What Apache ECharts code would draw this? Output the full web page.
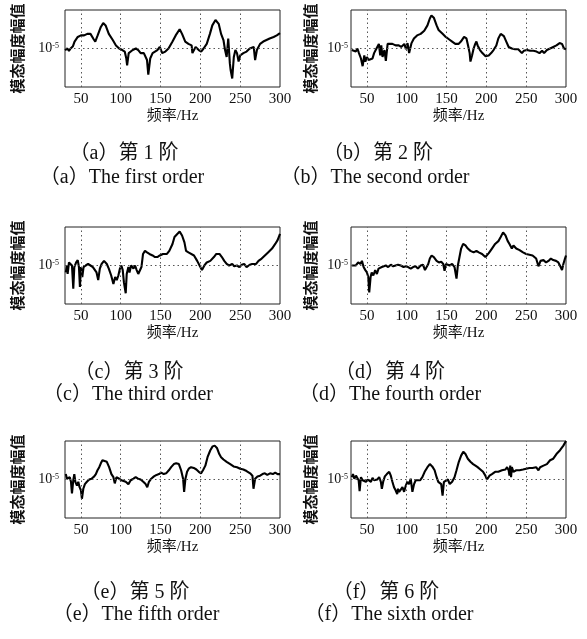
<!DOCTYPE html>
<html>
<head>
<meta charset="utf-8">
<script src="https://cdn.jsdelivr.net/npm/echarts@6/dist/echarts.min.js"></script>
<style>
  html, body { margin: 0; background: #fff; }
  #chart { width: 587px; height: 639px; }
</style>
</head>
<body>
<div id="chart"></div>
<script>
// tick values on the frequency axis
const xTicks = [50, 100, 150, 200, 250, 300];
const gridFreqs = [50, 100, 150, 200, 250];
// 10^-5 reference (values below are log10 of the modal amplitude)
const refLevel = -5;

// [frequency Hz, log10 amplitude]
const order1 = [[30,-5.02],[33,-5.00],[35,-5.03],[37,-5.00],[40,-4.97],[42,-4.91],[44,-4.89],[46,-4.85],[50,-4.83],[54,-4.83],[58,-4.81],[62,-4.81],[66,-4.88],[68,-4.91],[71,-4.83],[75,-4.72],[78,-4.67],[81,-4.70],[85,-4.81],[90,-4.89],[94,-4.96],[98,-5.00],[102,-5.02],[105,-5.04],[107,-5.13],[108,-5.22],[110,-5.06],[115,-5.02],[119,-5.00],[122,-5.02],[125,-5.06],[129,-5.06],[133,-5.15],[134.6,-5.34],[137,-5.13],[140,-5.06],[142,-5.04],[146,-5.02],[149,-4.98],[152,-5.06],[156,-5.04],[160,-5.00],[165,-4.91],[169,-4.83],[174,-4.75],[177,-4.81],[181,-4.91],[185,-4.94],[189,-4.96],[190,-5.06],[194,-4.98],[198,-5.02],[201,-5.04],[204,-5.00],[208,-4.94],[212,-4.81],[215,-4.70],[219,-4.63],[223,-4.68],[226,-4.81],[229,-4.89],[231,-5.02],[233,-5.11],[235,-4.87],[237,-5.19],[238,-5.28],[240,-5.39],[242,-5.11],[244,-5.02],[246,-5.06],[248,-5.17],[250,-5.09],[254,-5.06],[258,-5.04],[262,-5.00],[267,-4.98],[268.75,-5.15],[271,-5.02],[275,-4.94],[279,-4.91],[283,-4.89],[287,-4.87],[292,-4.85],[296,-4.83],[300,-4.80]];

const order2 = [[31,-5.02],[33,-5.00],[36,-5.04],[38,-5.00],[40,-5.06],[42.5,-5.13],[44.6,-5.23],[46.7,-5.09],[48,-5.17],[50,-5.11],[52,-5.15],[54,-5.17],[57,-5.13],[59,-5.06],[61,-5.02],[63,-4.98],[65,-4.94],[66.7,-5.09],[68,-4.96],[69.6,-5.11],[72,-5.02],[73.75,-5.16],[76,-4.94],[78,-4.93],[82,-4.94],[86,-4.96],[90,-4.96],[93,-4.98],[97,-4.94],[99,-5.01],[101,-4.93],[103,-5.06],[106,-4.93],[109,-4.87],[113,-4.83],[117.5,-4.81],[122,-4.77],[126,-4.70],[129,-4.61],[131,-4.57],[134,-4.60],[137.5,-4.70],[140,-4.76],[145,-4.81],[149,-4.85],[153,-4.88],[157,-4.91],[161,-4.94],[165,-4.94],[168,-4.91],[172,-4.85],[175,-4.87],[177,-4.96],[179,-5.06],[180,-5.17],[182,-5.09],[184,-5.00],[186,-4.94],[187.5,-4.91],[189,-4.96],[192,-5.02],[195,-5.06],[199,-5.10],[203,-5.09],[206,-5.06],[209,-5.02],[212.5,-4.96],[215,-4.87],[218,-4.81],[222,-4.84],[225,-4.91],[228,-4.98],[232,-5.00],[236,-5.01],[240,-5.01],[244.6,-5.06],[247,-5.03],[251,-5.02],[255,-5.03],[259,-5.03],[263,-5.04],[266.7,-5.06],[270,-5.03],[272.5,-5.06],[276,-5.02],[280,-5.00],[284,-4.98],[288,-4.96],[292,-4.93],[295,-4.94],[297.5,-5.00],[300,-5.01]];

const order3 = [[31,-5.09],[32.5,-5.00],[33.3,-5.11],[35,-4.96],[37.5,-4.94],[38.75,-5.00],[40.4,-5.30],[41.7,-5.02],[44,-4.96],[46,-4.93],[47.5,-5.02],[48.75,-5.28],[50,-5.02],[51.7,-5.15],[53.3,-5.02],[56,-5.00],[59,-4.98],[62,-5.00],[65,-5.02],[67.5,-5.00],[69.6,-5.09],[71.7,-5.19],[73.75,-5.04],[76,-4.98],[79,-4.94],[82.5,-4.98],[85,-5.04],[88,-5.13],[90.8,-5.24],[93,-5.15],[95,-5.19],[97,-5.13],[99,-5.04],[100.8,-5.00],[102.5,-5.06],[104,-5.22],[106.25,-5.36],[107.5,-5.11],[109.6,-5.02],[111,-5.09],[113,-5.00],[116,-5.04],[118,-5.00],[120,-5.06],[122,-5.11],[124,-5.13],[126,-5.02],[128,-4.85],[130.4,-4.81],[133,-4.83],[136,-4.85],[140,-4.87],[143,-4.89],[146,-4.89],[149,-4.87],[153,-4.85],[155,-4.87],[158,-4.85],[161,-4.81],[165,-4.72],[167.5,-4.63],[171,-4.59],[174,-4.56],[177,-4.61],[180,-4.70],[182,-4.81],[185,-4.83],[187.5,-4.85],[192,-4.87],[196,-4.94],[199,-5.00],[202,-5.06],[205,-5.00],[208,-4.96],[212.5,-4.94],[217,-4.89],[220,-4.85],[222,-4.83],[224,-4.85],[227,-4.89],[230,-4.94],[233,-4.98],[236,-5.00],[240,-4.98],[242.5,-5.01],[246,-5.00],[249,-5.02],[252,-4.99],[255,-4.98],[258,-5.02],[262,-4.99],[265,-4.98],[267.5,-4.96],[270,-4.98],[273,-4.94],[277,-4.91],[281,-4.87],[285,-4.83],[290,-4.78],[294,-4.72],[297,-4.67],[300,-4.59]];

const order4 = [[31,-5.00],[33,-4.98],[36,-5.00],[39,-4.96],[41.7,-4.98],[43.75,-4.94],[45.8,-5.02],[48,-5.06],[50,-5.09],[51.7,-5.15],[52.9,-5.35],[54.6,-5.15],[56,-5.09],[58,-5.13],[60.4,-5.06],[62.5,-5.11],[64.6,-5.04],[66.7,-5.06],[68.75,-5.02],[70.8,-5.04],[73.75,-5.00],[76.7,-5.02],[80,-4.99],[83,-5.01],[86,-5.00],[89,-4.99],[92.5,-5.00],[96,-5.02],[99,-5.01],[101.7,-5.02],[105,-5.04],[108,-5.02],[111,-5.01],[114,-5.04],[117.5,-5.00],[120.4,-4.99],[122.9,-5.06],[125,-5.04],[127,-4.98],[129,-4.91],[131.25,-4.87],[134,-4.89],[137.5,-4.94],[140.4,-4.96],[143.3,-4.95],[145.8,-4.98],[147.5,-5.07],[149.2,-4.98],[151.7,-4.97],[154,-5.00],[157,-4.98],[160,-5.02],[162.5,-5.17],[164.2,-5.00],[166.25,-4.89],[168.3,-4.78],[170.8,-4.72],[173.75,-4.74],[176.7,-4.78],[180,-4.81],[184,-4.83],[187.5,-4.81],[190.4,-4.83],[194.6,-4.85],[198.75,-4.89],[203,-4.84],[207,-4.78],[211,-4.72],[215.4,-4.68],[218,-4.63],[221,-4.57],[224,-4.61],[226.7,-4.68],[229,-4.72],[232,-4.78],[234,-4.74],[237.5,-4.78],[241.7,-4.80],[246,-4.83],[250,-4.85],[254,-4.86],[258,-4.87],[262.5,-4.91],[265.4,-5.01],[268,-4.94],[271.7,-4.93],[275,-4.96],[278,-4.94],[281,-4.91],[284,-4.93],[287.5,-4.94],[290.4,-4.96],[293.3,-5.02],[295,-5.06],[296.7,-4.98],[298.75,-4.91],[300,-4.87]];

const order5 = [[31,-4.93],[32.5,-4.99],[34,-5.01],[36,-4.97],[37.5,-5.03],[38.75,-5.18],[40.4,-5.01],[41.7,-4.93],[43,-5.03],[45,-5.08],[46.7,-5.03],[48.3,-5.10],[50,-5.14],[51.25,-5.25],[53,-5.12],[55,-5.06],[57.5,-5.03],[60.4,-5.00],[63.3,-4.99],[66.7,-4.96],[68.75,-4.93],[70.8,-4.88],[73,-4.84],[75,-4.79],[77,-4.75],[79,-4.74],[82.5,-4.77],[85.4,-4.84],[88.3,-4.93],[90.8,-4.97],[92.5,-5.05],[94.6,-4.97],[98,-4.99],[100.8,-5.01],[103.3,-4.99],[106.25,-5.03],[109.6,-5.06],[112.5,-5.01],[116,-4.99],[118.75,-4.97],[121.7,-4.99],[125,-5.00],[128.3,-5.03],[131.25,-5.06],[133.3,-5.10],[135.4,-5.03],[138.3,-4.99],[141.7,-4.96],[145,-4.94],[148,-4.93],[150.8,-4.91],[154,-4.93],[157,-4.92],[160.4,-4.88],[163.3,-4.84],[166.7,-4.80],[169.6,-4.79],[173,-4.80],[175.8,-4.88],[178.3,-4.99],[179.6,-5.16],[181.25,-4.99],[183.3,-4.90],[185.4,-4.86],[188.3,-4.84],[191.7,-4.85],[195,-4.87],[198,-4.90],[200.8,-4.92],[203.3,-4.88],[206.25,-4.82],[209,-4.71],[212.5,-4.62],[215.4,-4.57],[218,-4.56],[220.8,-4.59],[223.75,-4.67],[226,-4.71],[229,-4.74],[233,-4.77],[237.5,-4.80],[241.7,-4.83],[246,-4.84],[250,-4.86],[254,-4.87],[258,-4.89],[262.5,-4.92],[265.4,-4.95],[266.7,-5.12],[268.75,-4.99],[271.7,-4.96],[275,-4.95],[278,-4.93],[281,-4.92],[284,-4.94],[287.5,-4.92],[291,-4.93],[294,-4.91],[297,-4.93],[300,-4.93]];

const order6 = [[31,-4.97],[32.5,-4.93],[34.2,-4.99],[36.25,-4.95],[38.3,-4.97],[39.6,-5.01],[40.8,-5.15],[42.5,-4.97],[44.6,-5.01],[46.7,-4.99],[48.75,-5.03],[50.8,-5.00],[52.9,-5.01],[55,-5.03],[57,-4.98],[59,-5.01],[61,-5.03],[63,-5.00],[65.4,-4.97],[67.5,-5.03],[68.75,-5.12],[70.4,-5.03],[72.5,-4.96],[75,-4.93],[78,-4.90],[80,-4.95],[82,-5.03],[84,-5.10],[86,-5.14],[88,-5.19],[89,-5.12],[90.4,-5.16],[92.5,-5.13],[94.6,-5.10],[96.7,-5.16],[98.75,-5.08],[100.8,-5.03],[102.9,-5.06],[105,-4.99],[107.1,-5.16],[109.2,-5.06],[111.25,-5.01],[113.3,-5.03],[116.7,-5.01],[119.6,-4.97],[122.5,-4.90],[126,-4.84],[129,-4.80],[132,-4.83],[135,-4.88],[137.5,-4.97],[139.6,-5.03],[141.7,-5.01],[143.3,-5.06],[145,-5.21],[146.7,-5.03],[148.75,-5.01],[151.7,-5.00],[154,-5.06],[157,-5.03],[160,-4.97],[162.5,-4.88],[165.4,-4.77],[168.3,-4.69],[171,-4.64],[173.75,-4.67],[176.7,-4.73],[180,-4.77],[183.3,-4.80],[186.25,-4.82],[189,-4.84],[192.5,-4.87],[195.8,-4.90],[198.75,-4.95],[200.8,-5.00],[204,-4.95],[207,-4.93],[211,-4.90],[215,-4.90],[219.6,-4.88],[224,-4.87],[226,-4.84],[228,-4.88],[229,-4.95],[230,-4.82],[231,-4.97],[232,-4.84],[234,-4.90],[237.5,-4.88],[241.7,-4.88],[246,-4.87],[250,-4.86],[254,-4.85],[258,-4.85],[262.5,-4.84],[265.4,-4.88],[267.5,-4.84],[271.7,-4.82],[276,-4.80],[280,-4.75],[284,-4.73],[288,-4.67],[292.5,-4.62],[296.7,-4.56],[300,-4.50]];

const captionsCn = ['（a）第 1 阶', '（b）第 2 阶', '（c）第 3 阶', '（d）第 4 阶', '（e）第 5 阶', '（f）第 6 阶'];
const captionsEn = ['（a）The first order', '（b）The second order', '（c）The third order', '（d）The fourth order', '（e）The fifth order', '（f）The sixth order'];
const seriesData = [order1, order2, order3, order4, order5, order6];

// layout of the 3x2 panels
const colLeft = [65, 351];
const rowTop = [10, 227, 441];
const boxW = 215;
const boxH = 77;
const nameGapY = [40, 33];
const labelMarginY = [6, 3];
const captionX = [[124, 122], [378, 375], [129, 128], [390, 390], [135, 136], [386, 389]];
const captionY = [[154, 178], [373, 395], [593, 615]];

const serif = '"Liberation Serif", "Noto Sans CJK SC", serif';
const inkColor = '#111';

const chart = echarts.init(document.getElementById('chart'));

const grid = [];
const xAxis = [];
const yAxis = [];
const series = [];
const graphic = [];

seriesData.forEach((data, i) => {
  const col = i % 2;
  const row = Math.floor(i / 2);
  grid.push({
    left: colLeft[col],
    top: rowTop[row],
    width: boxW,
    height: boxH,
    show: true,
    borderColor: '#222',
    borderWidth: 1,
    containLabel: false
  });
  xAxis.push({
    gridIndex: i,
    type: 'value',
    min: 30,
    max: 300,
    axisLine: { show: false },
    axisTick: { show: false },
    splitLine: { show: false },
    axisLabel: {
      customValues: xTicks,
      color: inkColor,
      fontFamily: serif,
      fontSize: 15,
      margin: 5
    },
    name: '频率/Hz',
    nameLocation: 'middle',
    nameGap: 22,
    nameTextStyle: {
      color: inkColor,
      fontFamily: serif,
      fontSize: 15
    }
  });
  yAxis.push({
    gridIndex: i,
    type: 'value',
    min: -5.5,
    max: -4.5,
    axisLine: { show: false },
    axisTick: { show: false },
    splitLine: { show: false },
    axisLabel: {
      customValues: [refLevel],
      margin: labelMarginY[col],
      formatter: () => '{b|10}{s|-5}',
      rich: {
        b: { fontFamily: serif, fontSize: 14, color: inkColor },
        s: { fontFamily: serif, fontSize: 8, color: inkColor, verticalAlign: 'top' }
      }
    },
    name: '模态幅度幅值',
    nameLocation: 'middle',
    nameRotate: 90,
    nameGap: nameGapY[col],
    nameTextStyle: {
      color: inkColor,
      fontFamily: '"Noto Sans CJK SC", sans-serif',
      fontWeight: 'bold',
      fontSize: 15
    }
  });
  series.push({
    type: 'line',
    xAxisIndex: i,
    yAxisIndex: i,
    data: data,
    showSymbol: false,
    symbol: 'none',
    silent: true,
    lineStyle: { color: '#000', width: 2.1 },
    markLine: {
      silent: true,
      symbol: 'none',
      label: { show: false },
      lineStyle: { type: [1.5, 3], color: '#555', width: 1 },
      data: gridFreqs.map((f) => ({ xAxis: f })).concat([{ yAxis: refLevel }])
    }
  });
  // 图题：中文 + 英文
  graphic.push({
    type: 'text',
    x: captionX[i][0],
    y: captionY[row][0],
    style: {
      text: captionsCn[i],
      font: '20px ' + serif,
      fill: inkColor,
      textAlign: 'center',
      textVerticalAlign: 'middle',
      align: 'center',
      verticalAlign: 'middle'
    }
  });
  graphic.push({
    type: 'text',
    x: captionX[i][1],
    y: captionY[row][1],
    style: {
      text: captionsEn[i],
      font: '20px ' + serif,
      fill: inkColor,
      textAlign: 'center',
      textVerticalAlign: 'middle',
      align: 'center',
      verticalAlign: 'middle'
    }
  });
});

chart.setOption({
  animation: false,
  backgroundColor: '#fff',
  grid: grid,
  xAxis: xAxis,
  yAxis: yAxis,
  series: series,
  graphic: graphic
});
</script>
</body>
</html>
